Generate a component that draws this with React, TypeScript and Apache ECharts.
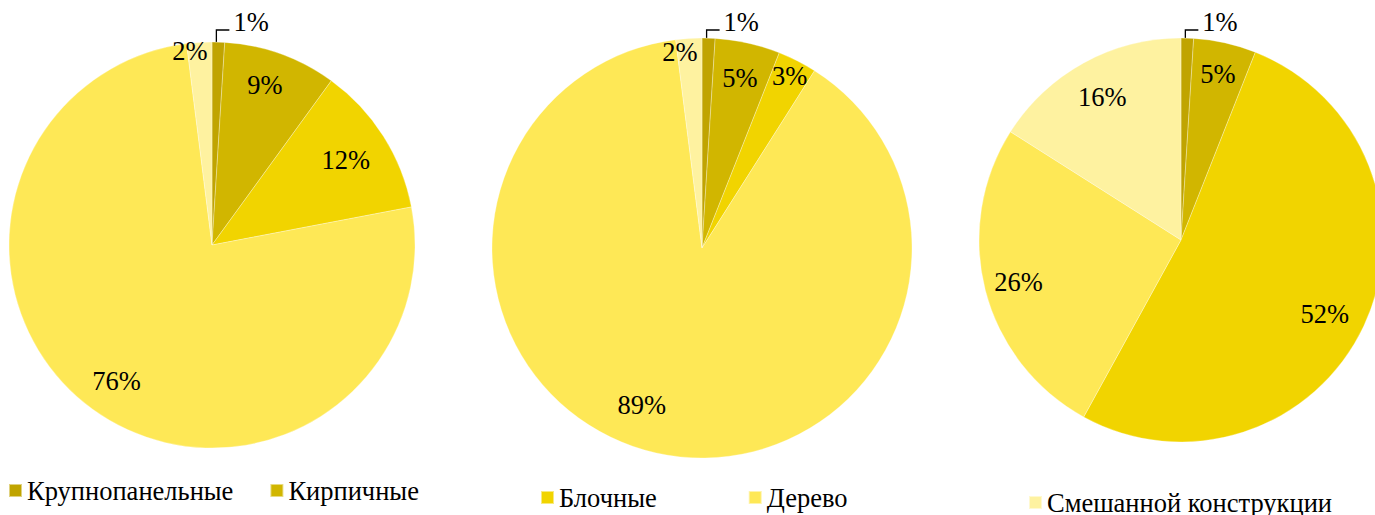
import React, { useEffect, useRef } from "react";
import * as echarts from "echarts";

const categories = [
  "Крупнопанельные",
  "Кирпичные",
  "Блочные",
  "Дерево",
  "Смешанной конструкции",
];
const pie1Values = [1, 9, 12, 76, 2];
const pie2Values = [1, 5, 3, 89, 2];
const pie3Values = [1, 5, 52, 26, 16];

const colors = ["#C0A400", "#D1B600", "#F1D400", "#FEE856", "#FEF2A0"];
const FONT = "'Liberation Serif', 'Times New Roman', serif";
const FONT_SIZE = 26.5;
const LEADER_Y = 30;

// layout / style config (not data)
const pies = [
  {
    values: pie1Values,
    center: [212, 245],
    r: 203,
    labelRadius: [0, 0.83, 0.78, 0.82, 0.96],
    labelTurn: [0, -1.5, 0, -1, -2.9],
  },
  {
    values: pie2Values,
    center: [702, 248],
    r: 210,
    labelRadius: [0, 0.83, 0.92, 0.8, 0.94],
    labelTurn: [0, 0, 0, 8.4, -2.8],
  },
  {
    values: pie3Values,
    center: [1181, 240],
    r: 202,
    labelRadius: [0, 0.84, 0.8, 0.83, 0.81],
    labelTurn: [0, 0, 2, 0, 0],
  },
];

function midAngle(values: number[], i: number) {
  const total = values.reduce((a, b) => a + b, 0);
  let before = 0;
  for (let j = 0; j < i; j++) before += values[j];
  return ((before + values[i] / 2) / total) * 360;
}

export default function App() {
  const ref = useRef<HTMLDivElement>(null);
  useEffect(() => {
    document.body.style.margin = "0";
    if (!ref.current) return;
    const chart = echarts.init(ref.current, undefined, { renderer: "svg" });

    const series: any[] = pies.map((p) => ({
      type: "pie",
      center: p.center,
      radius: [0, p.r],
      startAngle: 90,
      clockwise: true,
      avoidLabelOverlap: false,
      silent: true,
      itemStyle: { borderColor: "rgba(255,255,255,0.5)", borderWidth: 0.6 },
      label: {
        show: true,
        position: "inside",
        formatter: (prm: any) => `${prm.value}%`,
        fontFamily: FONT,
        fontSize: FONT_SIZE,
        color: "#000",
      },
      labelLine: { show: false },
      labelLayout: (prm: any) => {
        const i = prm.dataIndex;
        const [cx, cy] = p.center;
        const r = p.r;
        const a = midAngle(p.values, i);
        if (i === 0) {
          const rad = (a * Math.PI) / 180;
          const ex = cx + Math.sin(rad) * r - 2;
          const ey = cy - Math.cos(rad) * r;
          const ly = LEADER_Y;
          return {
            x: ex + 17,
            y: ly - 8,
            align: "left",
            verticalAlign: "middle",
            labelLinePoints: [
              [ex, ey],
              [ex, ly],
              [ex + 13, ly],
            ],
          };
        }
        const ang = ((a + p.labelTurn[i]) * Math.PI) / 180;
        const d = p.labelRadius[i] * r;
        return {
          x: cx + Math.sin(ang) * d,
          y: cy - Math.cos(ang) * d,
          align: "center",
          verticalAlign: "middle",
        };
      },
      data: p.values.map((v, i) => ({
        name: categories[i],
        value: v,
        itemStyle: { color: colors[i] },
        ...(i === 0
          ? {
              label: { position: "outside" },
              labelLine: {
                show: true,
                length: 10,
                length2: 12,
                lineStyle: { color: "#000", width: 1.3 },
              },
            }
          : {}),
      })),
    }));

    const legendBase = {
      orient: "horizontal",
      icon: "rect",
      itemWidth: 13,
      itemHeight: 13,
      padding: 0,
      selectedMode: false,
      textStyle: { fontFamily: FONT, fontSize: FONT_SIZE, color: "#000" },
    };

    chart.setOption({
      animation: false,
      color: colors,
      legend: [
        { ...legendBase, left: 8, top: 477, itemGap: 36, data: [categories[0], categories[1]] },
        { ...legendBase, left: 540, top: 484, itemGap: 91, data: [categories[2], categories[3]] },
        { ...legendBase, left: 1028, top: 489, data: [categories[4]] },
      ],
      series,
    });
    return () => chart.dispose();
  }, []);
  return <div ref={ref} style={{ width: 1375, height: 515 }} />;
}
